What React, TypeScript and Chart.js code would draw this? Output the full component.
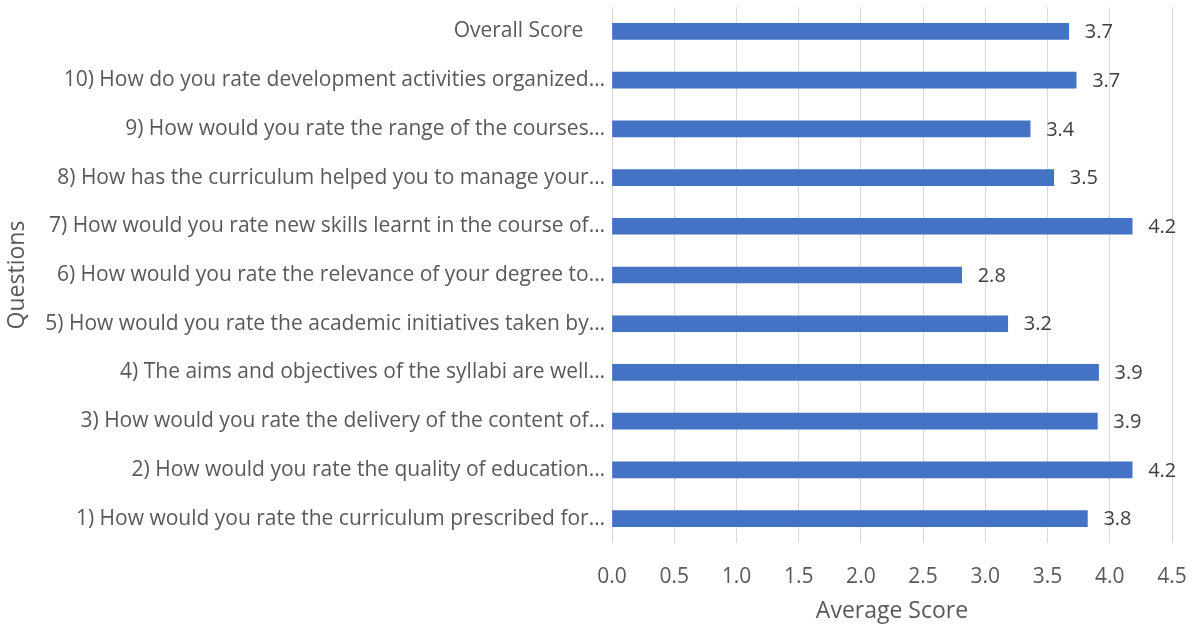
import React, { useEffect, useRef } from "react";
import { Chart, registerables } from "chart.js";

Chart.register(...registerables);

const questions: string[] = [
  "Overall Score    ",
  "10) How do you rate development activities organized…",
  "9) How would you rate the range of the courses…",
  "8) How has the curriculum helped you to manage your…",
  "7) How would you rate new skills learnt in the course of…",
  "6) How would you rate the relevance of your degree to…",
  "5) How would you rate the academic initiatives taken by…",
  "4) The aims and objectives of the syllabi are well…",
  "3) How would you rate the delivery of the content of…",
  "2) How would you rate the quality of education…",
  "1) How would you rate the curriculum prescribed for…",
];

const averageScores: number[] = [3.67, 3.73, 3.36, 3.55, 4.18, 2.81, 3.18, 3.91, 3.9, 4.18, 3.82];

const xTickMin = 0;
const xTickMax = 4.5;
const xTickStep = 0.5;

const FONT = "'Open Sans', sans-serif";

const valueLabels = {
  id: "valueLabels",
  afterDatasetsDraw(chart: any) {
    const ctx = chart.ctx;
    const meta = chart.getDatasetMeta(0);
    const data = chart.data.datasets[0].data as number[];
    ctx.save();
    ctx.font = `20px ${FONT}`;
    ctx.fillStyle = "#404040";
    ctx.textAlign = "left";
    ctx.textBaseline = "middle";
    meta.data.forEach((bar: any, i: number) => {
      ctx.fillText(data[i].toFixed(1), bar.x + 16, bar.y + 1);
    });
    ctx.restore();
  },
};

export default function App() {
  const canvasRef = useRef<HTMLCanvasElement | null>(null);

  useEffect(() => {
    if (!canvasRef.current) return;
    const chart = new Chart(canvasRef.current, {
      type: "bar",
      data: {
        labels: questions,
        datasets: [
          {
            label: "Average Score",
            data: averageScores,
            backgroundColor: "#4472C4",
            borderWidth: 0,
            barThickness: 16,
          },
        ],
      },
      options: {
        indexAxis: "y",
        animation: false,
        responsive: true,
        maintainAspectRatio: false,
        layout: { padding: { top: 7, right: 27, bottom: 0, left: 0 } },
        plugins: {
          legend: { display: false },
          tooltip: { enabled: false },
        },
        scales: {
          x: {
            min: xTickMin,
            max: xTickMax,
            ticks: {
              stepSize: xTickStep,
              color: "#595959",
              font: { family: FONT, size: 21 },
              padding: 21,
              callback: (v: any) => Number(v).toFixed(1),
            },
            grid: { color: "#d9d9d9", lineWidth: 1, drawTicks: false },
            border: { display: false },
            title: {
              display: true,
              text: "Average Score",
              color: "#595959",
              font: { family: FONT, size: 23 },
              padding: { top: 4, bottom: 0 },
            },
            afterFit: (scale: any) => {
              scale.height = 82;
              scale.paddingLeft = 0;
              scale.paddingRight = 0;
            },
          },
          y: {
            ticks: {
              color: "#595959",
              font: { family: FONT, size: 21 },
              padding: 7,
              autoSkip: false,
            },
            grid: { display: false, drawTicks: false },
            border: { display: false },
            title: {
              display: true,
              text: "Questions",
              color: "#595959",
              font: { family: FONT, size: 23 },
              padding: { top: 4, bottom: 0 },
            },
            afterFit: (scale: any) => {
              scale.width = 612;
              scale.paddingTop = 0;
              scale.paddingBottom = 0;
            },
          },
        },
      },
      plugins: [valueLabels],
    });
    return () => chart.destroy();
  }, []);

  return (
    <div style={{ position: "fixed", left: 0, top: 0, width: 1199, height: 625, background: "#fff" }}>
      <canvas ref={canvasRef} />
    </div>
  );
}
